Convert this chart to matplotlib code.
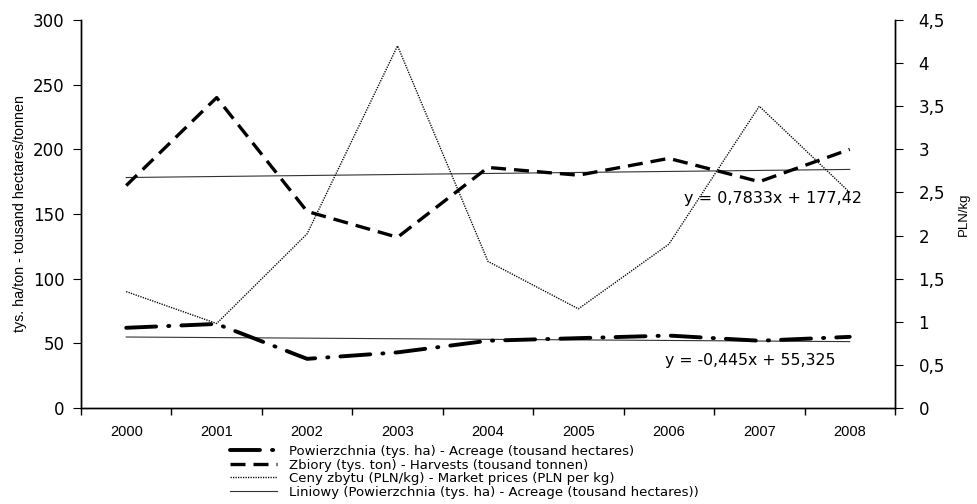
import matplotlib
matplotlib.use("Agg")
import numpy as np
import matplotlib.pyplot as plt

# Dane roczne
years = ["2000", "2001", "2002", "2003", "2004", "2005", "2006", "2007", "2008"]
acreage = [62, 65, 38, 43, 52, 54, 56, 52, 55]              # tys. ha
harvests = [172, 240, 152, 132, 186, 180, 193, 175, 200]    # tys. ton
prices = [1.35, 0.98, 2.02, 4.2, 1.7, 1.15, 1.9, 3.5, 2.5]  # PLN/kg

# Linie trendu (liniowe)
acre_a, acre_b = -0.445, 55.325
harv_a, harv_b = 0.7833, 177.42

labels = [
    "Powierzchnia (tys. ha) - Acreage (tousand hectares)",
    "Zbiory (tys. ton) - Harvests (tousand tonnen)",
    "Ceny zbytu (PLN/kg) - Market prices (PLN per kg)",
    "Liniowy (Powierzchnia (tys. ha) - Acreage (tousand hectares))",
]

x = np.arange(len(years))
t = x + 1

fig = plt.figure(figsize=(9.78, 5.04), dpi=100)
ax = fig.add_axes([0.0828, 0.1905, 0.8323, 0.7698])
ax2 = ax.twinx()

# dashes liczone w jednostkach grubości linii
l1, = ax.plot(x, acreage, color="black", lw=2.8, dashes=(7.7, 3.1, 0.3, 3.1),
              dash_capstyle="round", zorder=3)
l2, = ax.plot(x, harvests, color="black", lw=2.4, dashes=(4.5, 2.4), zorder=3)
l3, = ax2.plot(x, prices, color="black", lw=1, dashes=(0.9, 0.9), zorder=3)
l4, = ax.plot(x, acre_a * t + acre_b, color="0.2", lw=0.8, zorder=2)
ax.plot(x, harv_a * t + harv_b, color="0.2", lw=0.8, zorder=2)

ax.text(7.15, 162, "y = 0,7833x + 177,42", fontsize=11.5, fontfamily="DejaVu Sans",
        ha="center", va="center")
ax.text(6.90, 37, "y = -0,445x + 55,325", fontsize=11.3, fontfamily="DejaVu Sans",
        ha="center", va="center")

ax.set_xlim(-0.5, len(years) - 0.5)
ax.set_ylim(0, 300)
ax.set_yticks(range(0, 301, 50))
ax2.set_ylim(0, 4.5)
ax2.set_yticks(np.arange(0, 4.51, 0.5))
ax2.set_yticklabels(["0", "0,5", "1", "1,5", "2", "2,5", "3", "3,5", "4", "4,5"])

ax.set_xticks(x)
ax.set_xticklabels(years, fontsize=10.5, fontfamily="Liberation Sans")
ax.set_xticks(np.arange(-0.5, len(years), 1), minor=True)
ax.tick_params(axis="x", which="major", length=0, pad=12)
ax.tick_params(axis="x", which="minor", length=5, width=1)

for a in (ax, ax2):
    a.spines["top"].set_visible(False)
    for s in a.spines.values():
        s.set_linewidth(1)
ax.tick_params(axis="y", length=6, labelsize=12, pad=6)
ax2.tick_params(axis="y", length=6, labelsize=12, pad=11)
for lab in ax.get_yticklabels() + ax2.get_yticklabels():
    lab.set_fontfamily("DejaVu Sans")

ax.set_ylabel("tys. ha/ton - tousand hectares/tonnen", fontsize=10.3,
              fontfamily="Liberation Sans", labelpad=4)
ax2.set_ylabel("PLN/kg", fontsize=9.5, fontfamily="Liberation Sans", labelpad=9)

fig.legend([l1, l2, l3, l4], labels, loc="upper left",
           bbox_to_anchor=(0.235, 0.117), frameon=False,
           prop={"family": "DejaVu Sans", "size": 9.5},
           handlelength=3.6, handletextpad=0.9, labelspacing=0.04,
           borderpad=0, borderaxespad=0)

fig.savefig("out.png", dpi=100)
